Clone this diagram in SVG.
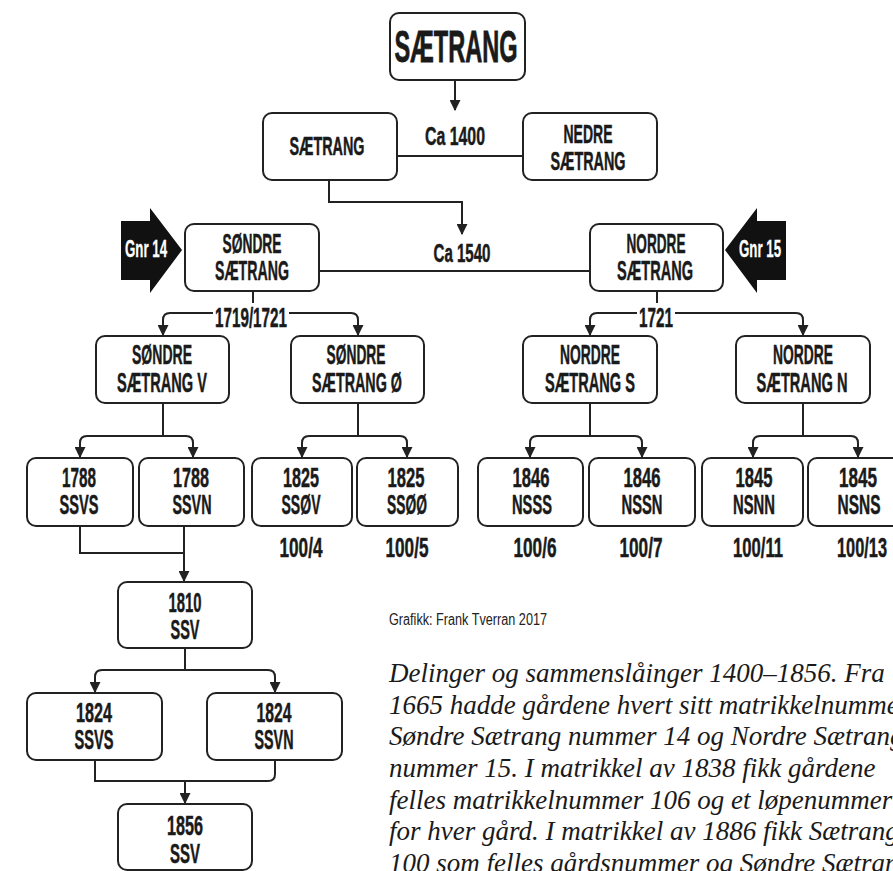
<svg xmlns="http://www.w3.org/2000/svg" width="893" height="871" viewBox="0 0 893 871">
<defs>
<style>
.box{fill:#fff;stroke:#222;stroke-width:2}
.lbl{font-family:"Liberation Sans",Arial,sans-serif;font-weight:bold;font-size:28px;text-anchor:middle;fill:#1a1a1a;stroke:#1a1a1a;stroke-width:0.5}
.big{font-size:45px;stroke-width:0.8}
.mid{font-size:26px}
.gnr{font-size:24px;fill:#fff;stroke:#fff;stroke-width:0.3}
.con{fill:none;stroke:#222;stroke-width:2}
.cap{font-family:"Liberation Serif","Times New Roman",serif;font-style:italic;font-size:27px;fill:#1a1a1a}
.credit{font-family:"Liberation Sans",Arial,sans-serif;font-size:16px;fill:#222}
</style>
<marker id="ah" viewBox="0 0 10 10" refX="9" refY="5" markerWidth="11" markerHeight="11" markerUnits="userSpaceOnUse" orient="auto">
<path d="M0,0 L10,5 L0,10 z" fill="#222"/>
</marker>
</defs>
<rect width="893" height="871" fill="#fff"/>

<g id="connectors" class="con">
<path d="M455,80 V110" marker-end="url(#ah)"/>
<path d="M397,156 H523"/>
<path d="M329,180 V202 H462 V234" marker-end="url(#ah)"/>
<path d="M319,271 H590"/>
<path d="M253,291 V303"/>
<path d="M213,313 H170 Q163,313 163,320 V335" marker-end="url(#ah)"/>
<path d="M289,313 H351 Q358,313 358,320 V335" marker-end="url(#ah)"/>
<path d="M657,291 V303"/>
<path d="M637,313 H597 Q590,313 590,320 V335" marker-end="url(#ah)"/>
<path d="M675,313 H796 Q803,313 803,320 V335" marker-end="url(#ah)"/>
<path d="M163,403 V436"/>
<path d="M87,436 H186 Q193,436 193,443 V457" marker-end="url(#ah)"/>
<path d="M87,436 Q80,436 80,443 V457" marker-end="url(#ah)"/>
<path d="M358,403 V436"/>
<path d="M309,436 H400 Q407,436 407,443 V457" marker-end="url(#ah)"/>
<path d="M309,436 Q302,436 302,443 V457" marker-end="url(#ah)"/>
<path d="M590,403 V436"/>
<path d="M537,436 H635 Q642,436 642,443 V457" marker-end="url(#ah)"/>
<path d="M537,436 Q530,436 530,443 V457" marker-end="url(#ah)"/>
<path d="M803,403 V436"/>
<path d="M760,436 H851 Q858,436 858,443 V457" marker-end="url(#ah)"/>
<path d="M760,436 Q753,436 753,443 V457" marker-end="url(#ah)"/>
<path d="M80,526 V553 H184"/>
<path d="M184,526 V581" marker-end="url(#ah)"/>
<path d="M185,648 V670"/>
<path d="M102,670 H268 Q275,670 275,677 V692" marker-end="url(#ah)"/>
<path d="M102,670 Q95,670 95,677 V692" marker-end="url(#ah)"/>
<path d="M95,760 V781 H268 Q275,781 275,774 V760"/>
<path d="M185,781 V803" marker-end="url(#ah)"/>
</g>

<g id="n-top"><rect class="box" x="390" y="13" width="135" height="67" rx="9"/><text class="lbl big" x="456" y="62" textLength="123" lengthAdjust="spacingAndGlyphs">SÆTRANG</text></g>
<g id="n-saetrang"><rect class="box" x="263" y="113" width="134" height="67" rx="9"/><text class="lbl mid" x="327" y="155" textLength="75" lengthAdjust="spacingAndGlyphs">SÆTRANG</text></g>
<g id="lbl-ca1400"><text class="lbl mid" x="455" y="145" textLength="60" lengthAdjust="spacingAndGlyphs">Ca 1400</text></g>
<g id="n-nedre"><rect class="box" x="523" y="113" width="134" height="67" rx="9"/><text class="lbl mid" x="588" y="143" textLength="49" lengthAdjust="spacingAndGlyphs">NEDRE</text><text class="lbl mid" x="588" y="170" textLength="75" lengthAdjust="spacingAndGlyphs">SÆTRANG</text></g>

<g id="gnr14"><polygon points="121,221 150,221 150,208 182,250 150,293 150,280 121,280" fill="#111"/><text class="lbl gnr" x="146" y="257" textLength="42" lengthAdjust="spacingAndGlyphs">Gnr 14</text></g>
<g id="n-sondre"><rect class="box" x="185" y="224" width="134" height="67" rx="9"/><text class="lbl" x="252" y="253" textLength="59" lengthAdjust="spacingAndGlyphs">SØNDRE</text><text class="lbl" x="252" y="280" textLength="74" lengthAdjust="spacingAndGlyphs">SÆTRANG</text></g>
<g id="lbl-ca1540"><text class="lbl mid" x="462" y="262" textLength="57" lengthAdjust="spacingAndGlyphs">Ca 1540</text></g>
<g id="n-nordre"><rect class="box" x="590" y="224" width="133" height="67" rx="9"/><text class="lbl" x="656" y="253" textLength="59" lengthAdjust="spacingAndGlyphs">NORDRE</text><text class="lbl" x="655" y="280" textLength="76" lengthAdjust="spacingAndGlyphs">SÆTRANG</text></g>
<g id="gnr15"><polygon points="786,221 757,221 757,208 725,250 757,293 757,280 786,280" fill="#111"/><text class="lbl gnr" x="760" y="257" textLength="42" lengthAdjust="spacingAndGlyphs">Gnr 15</text></g>

<g id="lbl-1719"><text class="lbl" x="251" y="327" textLength="72" lengthAdjust="spacingAndGlyphs">1719/1721</text></g>
<g id="lbl-1721"><text class="lbl" x="656" y="327" textLength="34" lengthAdjust="spacingAndGlyphs">1721</text></g>

<g id="n-sv"><rect class="box" x="96" y="336" width="133" height="67" rx="9"/><text class="lbl" x="162" y="364" textLength="60" lengthAdjust="spacingAndGlyphs">SØNDRE</text><text class="lbl" x="162" y="392" textLength="90" lengthAdjust="spacingAndGlyphs">SÆTRANG V</text></g>
<g id="n-so"><rect class="box" x="291" y="336" width="133" height="67" rx="9"/><text class="lbl" x="356" y="364" textLength="59" lengthAdjust="spacingAndGlyphs">SØNDRE</text><text class="lbl" x="357" y="392" textLength="90" lengthAdjust="spacingAndGlyphs">SÆTRANG Ø</text></g>
<g id="n-ns"><rect class="box" x="523" y="336" width="134" height="67" rx="9"/><text class="lbl" x="590" y="364" textLength="60" lengthAdjust="spacingAndGlyphs">NORDRE</text><text class="lbl" x="590" y="392" textLength="90" lengthAdjust="spacingAndGlyphs">SÆTRANG S</text></g>
<g id="n-nn"><rect class="box" x="736" y="336" width="134" height="67" rx="9"/><text class="lbl" x="803" y="364" textLength="60" lengthAdjust="spacingAndGlyphs">NORDRE</text><text class="lbl" x="802" y="392" textLength="91" lengthAdjust="spacingAndGlyphs">SÆTRANG N</text></g>

<g id="n-ssvs1788"><rect class="box" x="27" y="458" width="106" height="68" rx="9"/><text class="lbl" x="79" y="487" textLength="34" lengthAdjust="spacingAndGlyphs">1788</text><text class="lbl" x="79" y="514" textLength="39" lengthAdjust="spacingAndGlyphs">SSVS</text></g>
<g id="n-ssvn1788"><rect class="box" x="139" y="458" width="105" height="68" rx="9"/><text class="lbl" x="191" y="487" textLength="36" lengthAdjust="spacingAndGlyphs">1788</text><text class="lbl" x="192" y="514" textLength="39" lengthAdjust="spacingAndGlyphs">SSVN</text></g>
<g id="n-ssov"><rect class="box" x="252" y="458" width="100" height="68" rx="9"/><text class="lbl" x="301" y="487" textLength="36" lengthAdjust="spacingAndGlyphs">1825</text><text class="lbl" x="301" y="514" textLength="39" lengthAdjust="spacingAndGlyphs">SSØV</text></g>
<g id="n-ssoo"><rect class="box" x="357" y="458" width="101" height="68" rx="9"/><text class="lbl" x="406" y="487" textLength="37" lengthAdjust="spacingAndGlyphs">1825</text><text class="lbl" x="407" y="514" textLength="40" lengthAdjust="spacingAndGlyphs">SSØØ</text></g>
<g id="n-nsss"><rect class="box" x="478" y="458" width="105" height="68" rx="9"/><text class="lbl" x="531" y="487" textLength="37" lengthAdjust="spacingAndGlyphs">1846</text><text class="lbl" x="532" y="514" textLength="40" lengthAdjust="spacingAndGlyphs">NSSS</text></g>
<g id="n-nssn"><rect class="box" x="589" y="458" width="106" height="68" rx="9"/><text class="lbl" x="642" y="487" textLength="37" lengthAdjust="spacingAndGlyphs">1846</text><text class="lbl" x="642" y="514" textLength="41" lengthAdjust="spacingAndGlyphs">NSSN</text></g>
<g id="n-nsnn"><rect class="box" x="702" y="458" width="101" height="68" rx="9"/><text class="lbl" x="754" y="487" textLength="37" lengthAdjust="spacingAndGlyphs">1845</text><text class="lbl" x="754" y="514" textLength="42" lengthAdjust="spacingAndGlyphs">NSNN</text></g>
<g id="n-nsns"><rect class="box" x="808" y="458" width="105" height="68" rx="9"/><text class="lbl" x="858" y="487" textLength="38" lengthAdjust="spacingAndGlyphs">1845</text><text class="lbl" x="859" y="514" textLength="43" lengthAdjust="spacingAndGlyphs">NSNS</text></g>

<g id="gnr-labels">
<text class="lbl" x="301" y="557" textLength="43" lengthAdjust="spacingAndGlyphs">100/4</text>
<text class="lbl" x="407" y="557" textLength="43" lengthAdjust="spacingAndGlyphs">100/5</text>
<text class="lbl" x="535" y="557" textLength="43" lengthAdjust="spacingAndGlyphs">100/6</text>
<text class="lbl" x="641" y="557" textLength="43" lengthAdjust="spacingAndGlyphs">100/7</text>
<text class="lbl" x="758" y="557" textLength="50" lengthAdjust="spacingAndGlyphs">100/11</text>
<text class="lbl" x="862" y="557" textLength="50" lengthAdjust="spacingAndGlyphs">100/13</text>
</g>

<g id="n-1810"><rect class="box" x="118" y="582" width="134" height="66" rx="9"/><text class="lbl" x="185" y="612" textLength="33" lengthAdjust="spacingAndGlyphs">1810</text><text class="lbl" x="185" y="639" textLength="29" lengthAdjust="spacingAndGlyphs">SSV</text></g>
<g id="n-1824a"><rect class="box" x="27" y="693" width="135" height="67" rx="9"/><text class="lbl" x="94" y="722" textLength="36" lengthAdjust="spacingAndGlyphs">1824</text><text class="lbl" x="94" y="749" textLength="39" lengthAdjust="spacingAndGlyphs">SSVS</text></g>
<g id="n-1824b"><rect class="box" x="207" y="693" width="135" height="67" rx="9"/><text class="lbl" x="274" y="722" textLength="35" lengthAdjust="spacingAndGlyphs">1824</text><text class="lbl" x="274" y="749" textLength="39" lengthAdjust="spacingAndGlyphs">SSVN</text></g>
<g id="n-1856"><rect class="box" x="118" y="804" width="134" height="66" rx="9"/><text class="lbl" x="185" y="835" textLength="36" lengthAdjust="spacingAndGlyphs">1856</text><text class="lbl" x="185" y="863" textLength="30" lengthAdjust="spacingAndGlyphs">SSV</text></g>

<g id="credit"><text class="credit" x="389" y="625" textLength="158" lengthAdjust="spacingAndGlyphs">Grafikk: Frank Tverran 2017</text></g>
<g id="caption" class="cap">
<text x="389" y="682">Delinger og sammenslåinger 1400–1856. Fra</text>
<text x="389" y="714">1665 hadde gårdene hvert sitt matrikkelnummer</text>
<text x="389" y="745">Søndre Sætrang nummer 14 og Nordre Sætrang</text>
<text x="389" y="777">nummer 15. I matrikkel av 1838 fikk gårdene</text>
<text x="389" y="809">felles matrikkelnummer 106 og et løpenummer</text>
<text x="389" y="840">for hver gård. I matrikkel av 1886 fikk Sætrang</text>
<text x="389" y="872">100 som felles gårdsnummer og Søndre Sætrang</text>
</g>
</svg>
